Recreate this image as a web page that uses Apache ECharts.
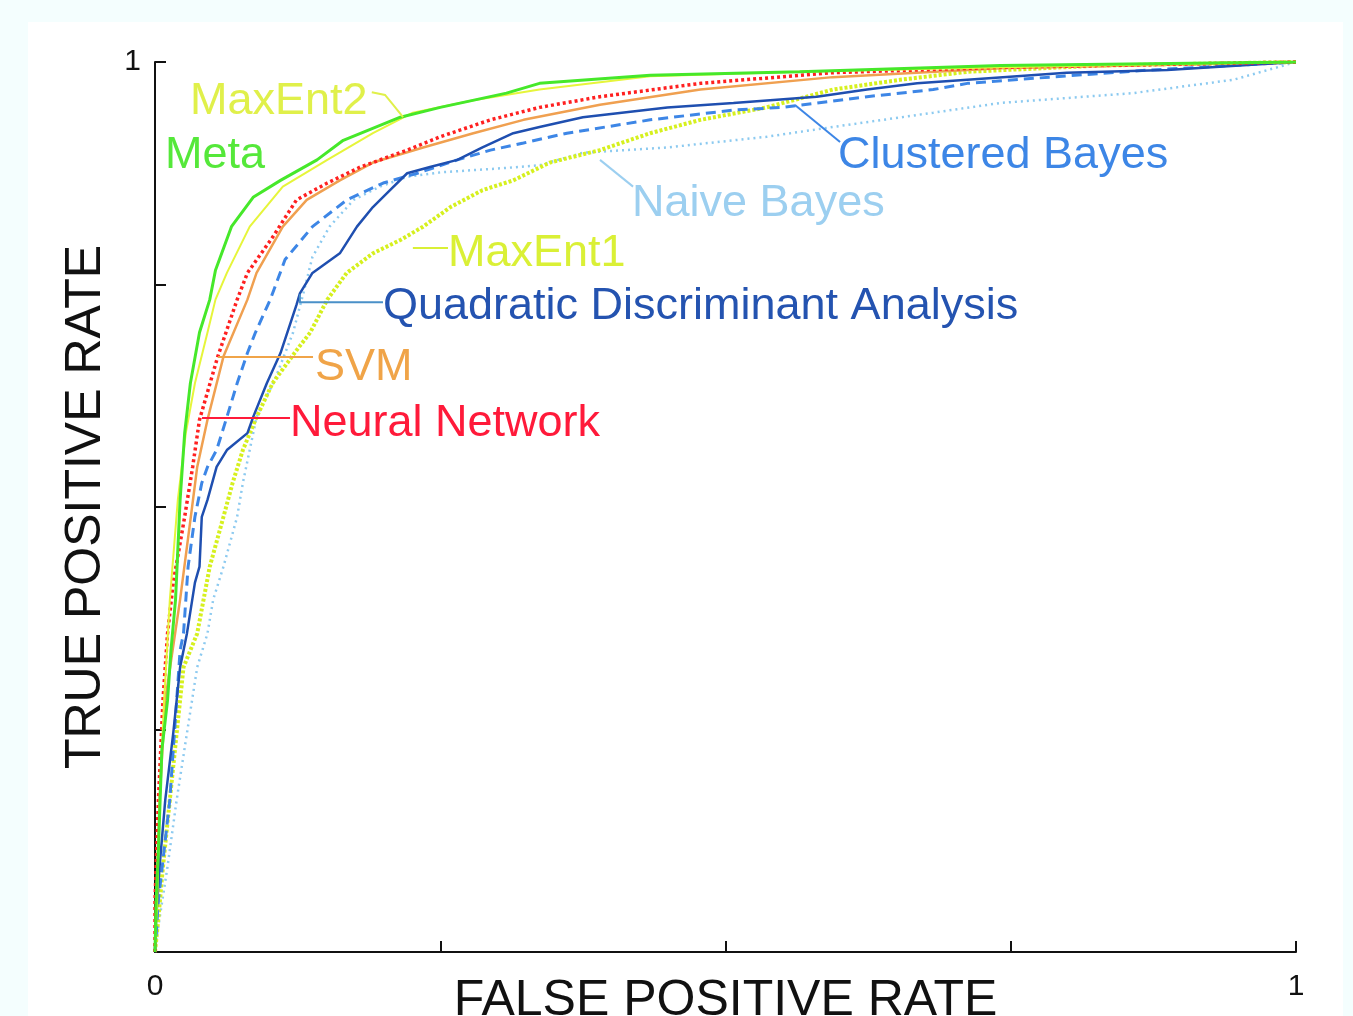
<!DOCTYPE html>
<html>
<head>
<meta charset="utf-8">
<title>ROC curves</title>
<script src="https://cdn.jsdelivr.net/npm/echarts@6/dist/echarts.min.js"></script>
<style>
  html, body { margin: 0; padding: 0; background: #f4fefe; }
  #chart { width: 1353px; height: 1016px; }
</style>
</head>
<body>
<div id="chart"></div>
<script>
// ROC curves: [false positive rate, true positive rate]
const meta = [[0,0],[0.001,0.058],[0.003,0.115],[0.006,0.227],[0.011,0.283],[0.014,0.339],[0.018,0.396],[0.022,0.508],[0.026,0.583],[0.031,0.639],[0.039,0.696],[0.048,0.733],[0.053,0.766],[0.067,0.815],[0.086,0.848],[0.110,0.867],[0.142,0.890],[0.165,0.912],[0.215,0.938],[0.250,0.949],[0.308,0.965],[0.337,0.976],[0.434,0.985],[0.565,0.989],[0.741,0.996],[1,1]];
const maxEnt2 = [[0,0],[0.002,0.058],[0.004,0.171],[0.008,0.283],[0.013,0.396],[0.020,0.508],[0.027,0.583],[0.035,0.639],[0.046,0.696],[0.053,0.733],[0.063,0.763],[0.083,0.815],[0.112,0.860],[0.151,0.890],[0.191,0.920],[0.226,0.943],[0.279,0.957],[0.337,0.969],[0.434,0.984],[0.565,0.989],[0.741,0.994],[1,1]];
const neuralNetwork = [[0,0],[0,0.058],[0.003,0.171],[0.007,0.283],[0.011,0.358],[0.016,0.415],[0.026,0.489],[0.033,0.545],[0.039,0.598],[0.055,0.669],[0.072,0.733],[0.081,0.763],[0.103,0.803],[0.124,0.845],[0.151,0.864],[0.180,0.882],[0.221,0.901],[0.250,0.916],[0.294,0.935],[0.337,0.949],[0.390,0.961],[0.478,0.976],[0.594,0.988],[0.741,0.994],[1,1]];
const svm = [[0,0],[0.001,0.058],[0.004,0.171],[0.009,0.283],[0.022,0.396],[0.031,0.485],[0.037,0.545],[0.046,0.598],[0.060,0.669],[0.081,0.733],[0.089,0.763],[0.112,0.815],[0.133,0.845],[0.162,0.867],[0.191,0.887],[0.235,0.904],[0.279,0.920],[0.323,0.935],[0.390,0.952],[0.478,0.969],[0.594,0.983],[0.741,0.993],[1,1]];
const quadraticDA = [[0,0],[0.001,0.036],[0.004,0.096],[0.009,0.171],[0.016,0.246],[0.022,0.320],[0.028,0.358],[0.035,0.415],[0.039,0.433],[0.041,0.489],[0.046,0.508],[0.054,0.545],[0.063,0.564],[0.081,0.583],[0.086,0.601],[0.098,0.639],[0.110,0.673],[0.124,0.727],[0.127,0.740],[0.138,0.763],[0.162,0.785],[0.177,0.815],[0.191,0.837],[0.206,0.856],[0.221,0.875],[0.241,0.882],[0.265,0.890],[0.287,0.904],[0.314,0.920],[0.337,0.927],[0.375,0.938],[0.449,0.949],[0.507,0.954],[0.580,0.961],[0.624,0.969],[0.668,0.976],[0.712,0.980],[0.799,0.988],[0.887,0.991],[1,1]];
const clusteredBayes = [[0,0],[0.003,0.058],[0.013,0.171],[0.019,0.283],[0.022,0.339],[0.025,0.358],[0.029,0.433],[0.035,0.489],[0.041,0.527],[0.046,0.545],[0.054,0.564],[0.063,0.601],[0.072,0.639],[0.081,0.673],[0.088,0.696],[0.101,0.733],[0.114,0.778],[0.138,0.815],[0.168,0.845],[0.200,0.864],[0.230,0.875],[0.265,0.890],[0.294,0.901],[0.323,0.909],[0.361,0.920],[0.434,0.935],[0.507,0.946],[0.550,0.949],[0.624,0.961],[0.682,0.969],[0.712,0.976],[0.784,0.983],[0.872,0.991],[1,1]];
const naiveBayes = [[0,0],[0.002,0.021],[0.011,0.096],[0.019,0.171],[0.028,0.246],[0.037,0.320],[0.046,0.358],[0.051,0.396],[0.060,0.433],[0.072,0.489],[0.077,0.527],[0.083,0.564],[0.089,0.601],[0.105,0.643],[0.121,0.696],[0.130,0.740],[0.138,0.781],[0.153,0.815],[0.174,0.845],[0.197,0.860],[0.221,0.871],[0.250,0.876],[0.308,0.881],[0.337,0.884],[0.375,0.898],[0.449,0.904],[0.536,0.916],[0.594,0.927],[0.682,0.943],[0.741,0.954],[0.857,0.965],[0.945,0.980],[1,1]];
const maxEnt1 = [[0,0],[0.002,0.025],[0.007,0.096],[0.013,0.171],[0.019,0.246],[0.025,0.320],[0.037,0.358],[0.048,0.433],[0.060,0.489],[0.068,0.527],[0.077,0.564],[0.089,0.601],[0.103,0.639],[0.124,0.676],[0.136,0.696],[0.151,0.733],[0.168,0.763],[0.191,0.785],[0.215,0.800],[0.235,0.815],[0.259,0.837],[0.287,0.856],[0.314,0.867],[0.346,0.887],[0.390,0.901],[0.434,0.920],[0.478,0.935],[0.536,0.949],[0.594,0.969],[0.653,0.980],[0.712,0.989],[0.828,0.996],[1,1]];

// Axis tick values and their printed labels
const tickValues = [0, 0.25, 0.5, 0.75, 1];
const xTickLabels = { 0: '0', 1: '1' };
const yTickLabels = { 1: '1' };

// Curve labels with leader lines, anchored in data space
const annotations = [
  { text: 'MaxEnt2', color: '#e0f04a', at: [0.0307, 0.9551], leader: [[0.190, 0.966], [0.2016, 0.963], [0.2086, 0.952], [0.2174, 0.938]] },
  { text: 'Meta', color: '#55e83a', at: [0.0088, 0.8944], leader: null },
  { text: 'Clustered Bayes', color: '#3d86e6', at: [0.5986, 0.8944], leader: [[0.6004, 0.9101], [0.5609, 0.9517]] },
  { text: 'Naive Bayes', color: '#9ccff0', at: [0.4181, 0.8404], leader: [[0.419, 0.860], [0.390, 0.890]] },
  { text: 'MaxEnt1', color: '#daf036', at: [0.2568, 0.7843], leader: [[0.226, 0.791], [0.2568, 0.791]] },
  { text: 'Quadratic Discriminant Analysis', color: '#2453b0', lineColor: '#4a90c8', at: [0.1998, 0.7247], leader: [[0.127, 0.739], [0.127, 0.730], [0.1998, 0.730]] },
  { text: 'SVM', color: '#f0a448', at: [0.1402, 0.6562], leader: [[0.0552, 0.6685], [0.1385, 0.6685]] },
  { text: 'Neural Network', color: '#ff1a3a', at: [0.1183, 0.5933], leader: [[0.0412, 0.600], [0.1183, 0.600]] }
];

const FONT = '"Liberation Sans", Arial, Helvetica, sans-serif';

function curve(name, data, color, width, type) {
  return {
    name: name,
    type: 'line',
    data: data,
    showSymbol: false,
    symbol: 'none',
    silent: true,
    lineStyle: { color: color, width: width, type: type }
  };
}

const chart = echarts.init(document.getElementById('chart'), null, { renderer: 'canvas' });

chart.setOption({
  animation: false,
  backgroundColor: '#f4fefe',
  grid: { left: 155, right: 57, top: 62, bottom: 64, outerBoundsMode: 'none', containLabel: false },
  xAxis: {
    type: 'value', min: 0, max: 1, interval: 0.25,
    name: 'FALSE POSITIVE RATE', nameLocation: 'middle', nameGap: 24, nameMoveOverlap: false,
    nameTextStyle: { color: '#111', fontSize: 50, fontFamily: FONT, verticalAlign: 'top' },
    axisLine: { lineStyle: { color: '#111', width: 2 } },
    axisTick: { inside: true, length: 11, lineStyle: { color: '#111', width: 2 } },
    axisLabel: {
      margin: 20, color: '#111', fontSize: 30, fontFamily: FONT,
      formatter: v => xTickLabels[v] !== undefined ? xTickLabels[v] : ''
    },
    splitLine: { show: false }
  },
  yAxis: {
    type: 'value', min: 0, max: 1, interval: 0.25,
    name: 'TRUE POSITIVE RATE', nameLocation: 'middle', nameGap: 44, nameMoveOverlap: false,
    nameTextStyle: { color: '#111', fontSize: 50, fontFamily: FONT },
    axisLine: { lineStyle: { color: '#111', width: 2 } },
    axisTick: { inside: true, length: 11, lineStyle: { color: '#111', width: 2 } },
    axisLabel: {
      margin: 14, color: '#111', fontSize: 30, fontFamily: FONT,
      formatter: v => yTickLabels[v] !== undefined ? yTickLabels[v] : ''
    },
    splitLine: { show: false }
  },
  series: [
    curve('Naive Bayes', naiveBayes, '#8ccaf0', 2.5, [2, 4]),
    curve('MaxEnt1', maxEnt1, '#d6f01e', 4, [3, 2]),
    curve('Clustered Bayes', clusteredBayes, '#3d86e6', 3, [10, 6]),
    curve('Quadratic Discriminant Analysis', quadraticDA, '#1f4fb0', 2.5, 'solid'),
    curve('SVM', svm, '#f0a050', 2.5, 'solid'),
    curve('Neural Network', neuralNetwork, '#ff2020', 3.5, [3, 3]),
    curve('MaxEnt2', maxEnt2, '#e6f53a', 2, 'solid'),
    curve('Meta', meta, '#46e82a', 3, 'solid')
  ]
});

// White page panel, then curve labels and leader lines placed through the grid's coordinate system
const toPx = p => chart.convertToPixel({ gridIndex: 0 }, p);
const graphics = [{
  id: 'panel', type: 'rect', z: -10, silent: true,
  shape: { x: 28, y: 22, width: 1315, height: 1000 },
  style: { fill: '#ffffff', stroke: null }
}];
annotations.forEach((a, i) => {
  if (a.leader) {
    graphics.push({
      id: 'leader' + i, type: 'polyline', silent: true, z: 20,
      shape: { points: a.leader.map(toPx) },
      style: { stroke: a.lineColor || a.color, lineWidth: 2, fill: null }
    });
  }
  const p = toPx(a.at);
  graphics.push({
    id: 'label' + i, type: 'text', silent: true, z: 20,
    x: p[0], y: p[1],
    style: { text: a.text, fill: a.color, font: '45px ' + FONT, align: 'left', verticalAlign: 'middle' }
  });
});
chart.setOption({ graphic: graphics });
</script>
</body>
</html>
